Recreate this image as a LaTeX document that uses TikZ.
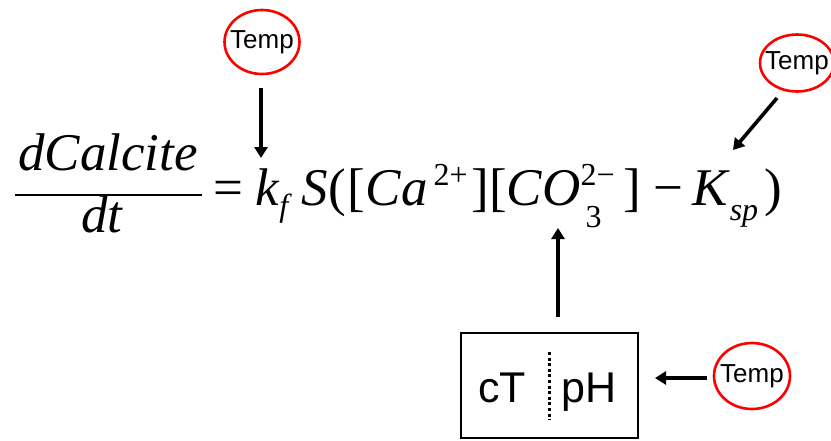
\documentclass[tikz,border=0pt]{standalone}
\usepackage{fontspec}
\setmainfont{Liberation Serif}
\newfontfamily\arialfont{Liberation Sans}
\usetikzlibrary{arrows.meta}
\newcommand\shiftscript[2]{\raisebox{#1}{\fontsize{32}{32}\selectfont #2}}
\tikzset{
  temptext/.style={inner sep=0pt, font=\arialfont\fontsize{26}{26}\selectfont},
  tempring/.style={draw=red, line width=2.6pt},
  bigarrow/.style={line width=3.6pt, -{Triangle[length=11pt,width=13pt]}},
  eqtext/.style={inner sep=0pt, font=\fontsize{53}{53}\selectfont},
  boxtext/.style={inner sep=0pt, font=\arialfont\fontsize{43}{43}\selectfont}
}
\begin{document}
\begin{tikzpicture}[x=1pt,y=-1pt]
\useasboundingbox (0,0) rectangle (831,440);
% fraction
\node[eqtext, anchor=base] (num) at (108,170) {\itshape dCalcite};
\node[eqtext, anchor=base] (den) at (102,232) {\itshape dt};
\coordinate (fl) at (15,195);
\coordinate (fr) at (202,195);
\draw[line width=2.6pt] (fl) -- (fr);
% right-hand side
\node[eqtext, anchor=base west] (rhs) at (213,205) {=\hspace{12pt}\textit{k}\shiftscript{-11pt}{\textit{f}}\hspace{10pt}\textit{S}(\hspace{1pt}[\hspace{1pt}\textit{Ca}\hspace{6pt}\shiftscript{20pt}{2+}\hspace{4pt}][\textit{CO}\rlap{\shiftscript{-22pt}{\hspace{5pt}3}}\shiftscript{20pt}{2−}\hspace{9pt}]\hspace{12pt}−\hspace{9pt}\textit{K}\shiftscript{-15pt}{\textit{sp}}\hspace{6pt})};
% Temp labels with red rings
\node[temptext] (t1) at (262,42) {Temp};
\draw[tempring] (t1.center) ellipse [x radius=37.5, y radius=32];
\node[temptext] (t2) at (797,63) {Temp};
\draw[tempring] (t2.center) ellipse [x radius=37, y radius=28.5];
\node[temptext] (t3) at (752,376) {Temp};
\draw[tempring] (t3.center) ellipse [x radius=38, y radius=33];
% box
\node[draw, line width=2.6pt, minimum width=177pt, minimum height=105pt, inner sep=0pt] (box) at (549.5,385.5) {};
\node[boxtext, anchor=base] (cT) at (502,402) {cT};
\node[boxtext, anchor=base] (pH) at (589,402) {pH};
\coordinate (dtop) at (549,352);
\coordinate (dbot) at (549,420);
\draw[line width=3pt, dash pattern=on 3pt off 2.6pt] (dtop) -- (dbot);
% arrows
\coordinate (a1s) at (261,88);
\coordinate (a1e) at (261,158);
\draw[bigarrow] (a1s) -- (a1e);
\coordinate (a2s) at (777,98);
\coordinate (a2e) at (733,150);
\draw[bigarrow] (a2s) -- (a2e);
\coordinate (a3e) at (558,228);
\draw[bigarrow] (box.north -| a3e) ++(0,-15) -- (a3e);
\coordinate (a4s) at (707,378);
\coordinate (a4e) at (655,378);
\draw[bigarrow] (a4s) -- (a4e);
\end{tikzpicture}
\end{document}
